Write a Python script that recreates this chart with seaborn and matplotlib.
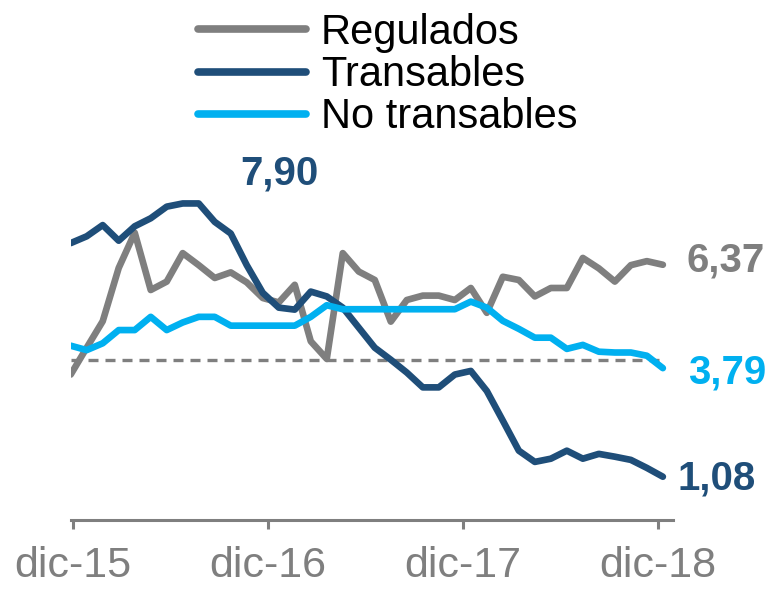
import numpy as np
import pandas as pd
import seaborn as sns
from matplotlib import pyplot as plt

# variación anual (%) por grupo, 38 observaciones
regulados = [3.63, 4.30, 4.96, 6.29, 7.17, 5.74, 5.95, 6.66, 6.36, 6.04,
             6.18, 5.93, 5.54, 5.43, 5.87, 4.46, 4.02, 6.66, 6.20, 5.99,
             4.95, 5.49, 5.60, 5.60, 5.49, 5.79, 5.17, 6.07, 5.99, 5.58,
             5.79, 5.79, 6.54, 6.28, 5.95, 6.36, 6.46, 6.37]
transables = [6.91, 7.08, 7.36, 6.97, 7.33, 7.53, 7.82, 7.90, 7.90, 7.44,
              7.15, 6.36, 5.67, 5.30, 5.25, 5.70, 5.58, 5.30, 4.80, 4.30,
              4.00, 3.68, 3.31, 3.31, 3.63, 3.72, 3.22, 2.48, 1.73, 1.45,
              1.53, 1.73, 1.53, 1.65, 1.58, 1.50, 1.30, 1.08]
no_transables = [4.35, 4.24, 4.41, 4.74, 4.74, 5.07, 4.74, 4.93, 5.07, 5.07,
                 4.85, 4.85, 4.85, 4.85, 4.85, 5.07, 5.36, 5.26, 5.26, 5.26,
                 5.26, 5.26, 5.26, 5.26, 5.26, 5.45, 5.30, 4.97, 4.77, 4.55,
                 4.55, 4.27, 4.37, 4.20, 4.18, 4.18, 4.10, 3.79]
meta = 4.0

series = ['Regulados', 'Transables', 'No transables']
colores = ['#7F7F7F', '#1F4E79', '#00B0F0']
fechas = pd.date_range('2015-11-27', periods=38, freq='30D')
tick_fechas = pd.to_datetime(['2015-12-01', '2016-12-01', '2017-12-01', '2018-12-01'])
tick_labels = ['dic-15', 'dic-16', 'dic-17', 'dic-18']

df = pd.DataFrame({
    'fecha': np.tile(fechas, 3),
    'valor': regulados + transables + no_transables,
    'serie': np.repeat(series, len(fechas)),
})

sns.set_theme(style='white')
plt.rcParams['font.family'] = ['Liberation Sans', 'DejaVu Sans']

fig = plt.figure(figsize=(7.8, 5.92), dpi=100)
ax = fig.add_axes([70.7 / 780, 72 / 592, (673 - 70.7) / 780, (520 - 119.3) / 592])

sns.lineplot(data=df, x='fecha', y='valor', hue='serie', hue_order=series,
             palette=dict(zip(series, colores)), linewidth=4.8, ax=ax,
             solid_capstyle='round', solid_joinstyle='round')
ax.hlines(meta, fechas[0], fechas[-1], colors='#7F7F7F', linewidth=2.4,
          linestyles=(0, (3, 2.1)), zorder=1)

ax.set_xlim(fechas[0], fechas[-1] + pd.Timedelta(days=19))
ax.set_ylim(0, 10)
ax.set_xticks(tick_fechas)
ax.set_xticklabels(tick_labels)
ax.set_yticks([])
ax.set_xlabel('')
ax.set_ylabel('')
for s in ['left', 'top', 'right']:
    ax.spines[s].set_visible(False)
ax.spines['bottom'].set_color('#7F7F7F')
ax.spines['bottom'].set_linewidth(2.2)
ax.tick_params(axis='x', bottom=True, direction='out', length=6.5, width=2.2,
               color='#7F7F7F', labelcolor='#7F7F7F', labelsize=31, pad=12)


def fmt(v):
    return f'{v:.2f}'.replace('.', ',')


i_max = int(np.argmax(transables))
ax.annotate(fmt(transables[i_max]), (fechas[i_max], transables[i_max]),
            xytext=(97, 30), textcoords='offset pixels', ha='center', va='center',
            fontsize=29, fontweight='bold', color=colores[1])
for vals, col, off in [(regulados, colores[0], (24, 4)),
                       (no_transables, colores[2], (25, -4)),
                       (transables, colores[1], (15, -2))]:
    ax.annotate(fmt(vals[-1]), (fechas[-1], vals[-1]), xytext=off,
                textcoords='offset pixels', ha='left', va='center',
                fontsize=29, fontweight='bold', color=col)

sns.move_legend(ax, loc='upper left', bbox_to_anchor=(198 / 780, 1 - 13 / 592),
                bbox_transform=fig.transFigure, frameon=False, title=None,
                fontsize=30, handlelength=2.6, handletextpad=0.35,
                labelspacing=0.05, borderpad=0, borderaxespad=0,
                labelcolor='black')
for h in ax.get_legend().get_lines():
    h.set_linewidth(5.5)
    h.set_solid_capstyle('round')

plt.savefig('out.png', dpi=100)
